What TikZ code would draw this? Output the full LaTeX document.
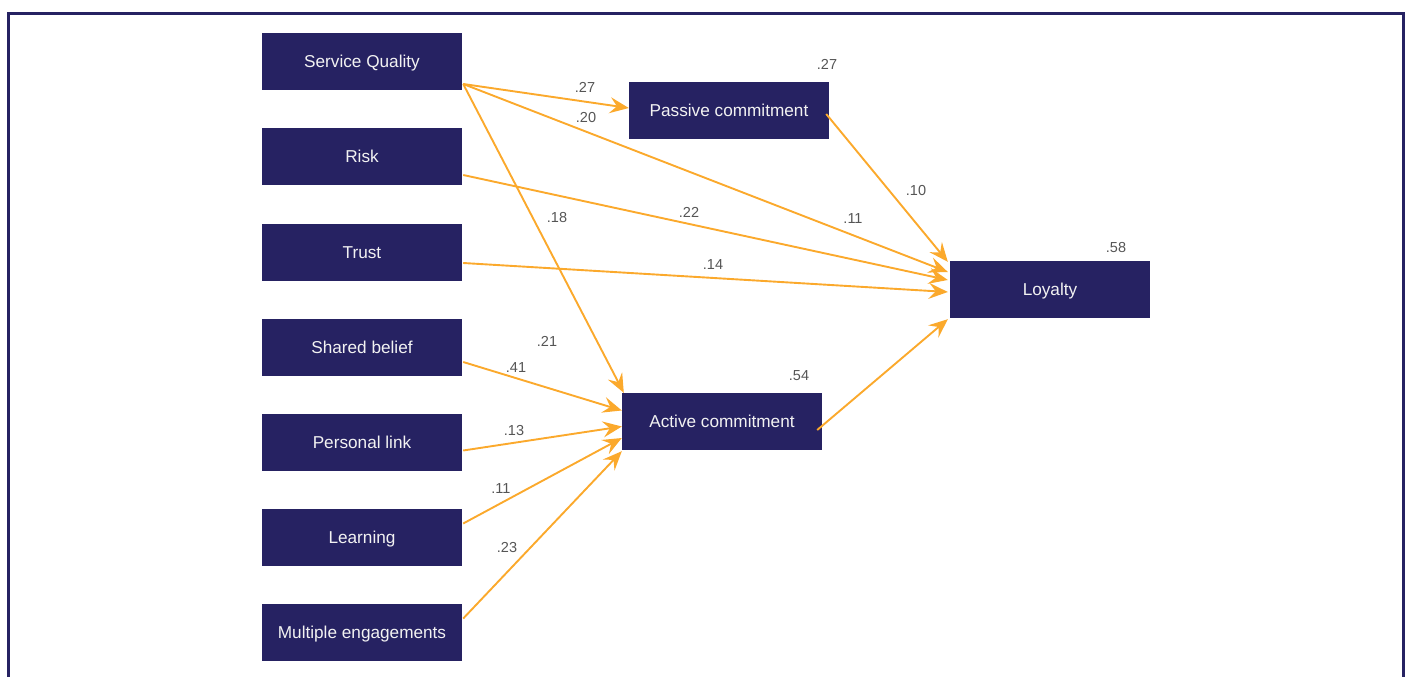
\documentclass[tikz,border=0pt]{standalone}
\usepackage{fontspec}
\setmainfont{Liberation Sans}
\usetikzlibrary{arrows.meta}
\definecolor{navy}{HTML}{262262}
\definecolor{orng}{HTML}{FBA92C}
\definecolor{lbl}{HTML}{555555}
\definecolor{boxtxt}{HTML}{F2F2F2}
\begin{document}
\begin{tikzpicture}[x=1pt,y=-1pt,
  box/.style={fill=navy,draw=none,minimum width=200pt,minimum height=57pt,inner sep=0pt,
    text height=12.3pt,text depth=1.3pt,
    text=boxtxt,font=\fontsize{17.2}{19}\selectfont},
  conn/.style={draw=orng,line width=1.9pt,-{Stealth[length=19pt,width=16pt,inset=7pt]}},
  nolab/.style={text=lbl,font=\fontsize{14.5}{16}\selectfont,inner sep=0pt},
  frame/.style={draw=navy,line width=2.4pt}]
\useasboundingbox (0,0) rectangle (1408,677);
\draw[frame] (8.5,680) -- (8.5,13.5) -- (1403.5,13.5) -- (1403.5,680);
% boxes
\node[box] (sq) at (362,61.5) {Service Quality};
\node[box] (risk) at (362,156.5) {Risk};
\node[box] (trust) at (362,252.5) {Trust};
\node[box] (shared) at (362,347.5) {Shared belief};
\node[box] (personal) at (362,442.5) {Personal link};
\node[box] (learning) at (362,537.5) {Learning};
\node[box] (multiple) at (362,632.5) {Multiple engagements};
\node[box] (passive) at (729,110.5) {Passive commitment};
\node[box] (active) at (722,421.5) {Active commitment};
\node[box] (loyalty) at (1050,289.5) {Loyalty};
% connectors
\draw[conn] ([xshift=1pt,yshift=-22.5pt]sq.east) -- ([yshift=2.5pt]passive.west);
\draw[conn] ([xshift=1pt,yshift=-22.5pt]sq.east) -- ([xshift=-2pt,yshift=17.5pt]loyalty.west);
\draw[conn] ([xshift=1pt,yshift=-22.5pt]sq.east) -- ([xshift=2pt]active.north west);
\draw[conn] ([xshift=1pt,yshift=-18.5pt]risk.east) -- ([xshift=-2pt,yshift=9.5pt]loyalty.west);
\draw[conn] ([xshift=1pt,yshift=-10.5pt]trust.east) -- ([xshift=-2pt,yshift=-2.5pt]loyalty.west);
\draw[conn] ([xshift=-3pt,yshift=-3.5pt]passive.east) -- ([xshift=-2pt,yshift=-1pt]loyalty.north west);
\draw[conn] ([xshift=-5pt,yshift=-8.5pt]active.east) -- ([xshift=-2pt,yshift=-1pt]loyalty.south west);
\draw[conn] ([xshift=1pt,yshift=-14.5pt]shared.east) -- ([yshift=11pt]active.west);
\draw[conn] ([xshift=1pt,yshift=-8pt]personal.east) -- ([yshift=-5pt]active.west);
\draw[conn] ([xshift=1pt,yshift=14pt]learning.east) -- ([yshift=-16.5pt]active.west);
\draw[conn] ([xshift=1pt,yshift=14pt]multiple.east) -- ([yshift=-1pt]active.south west);
% labels
\node[nolab] (l1) at (585,87) {.27};
\node[nolab] (l2) at (586,118) {.20};
\node[nolab] (l3) at (557,218) {.18};
\node[nolab] (l4) at (689,212) {.22};
\node[nolab] (l5) at (853,219) {.11};
\node[nolab] (l6) at (916,191) {.10};
\node[nolab] (l7) at (713,265) {.14};
\node[nolab] (l8) at (827,64) {.27};
\node[nolab] (l9) at (1116,248) {.58};
\node[nolab] (l10) at (547,341) {.21};
\node[nolab] (l11) at (516,368) {.41};
\node[nolab] (l12) at (799,376) {.54};
\node[nolab] (l13) at (514,431) {.13};
\node[nolab] (l14) at (501,489) {.11};
\node[nolab] (l15) at (507,548) {.23};
\end{tikzpicture}
\end{document}
